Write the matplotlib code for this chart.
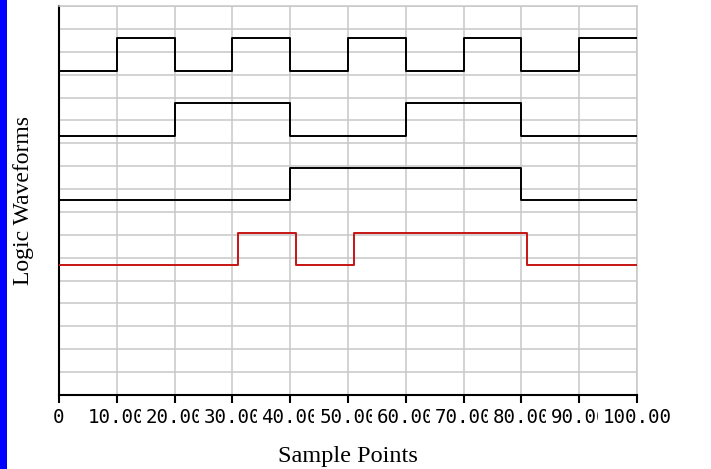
import numpy as np
import matplotlib
matplotlib.use("Agg")
import matplotlib.pyplot as plt
from matplotlib.patches import Rectangle

# transition points (sample index) and logic level after each point
clk_x = [0, 10, 20, 30, 40, 50, 60, 70, 80, 90, 100]
clk_lv = [0, 1, 0, 1, 0, 1, 0, 1, 0, 1, 1]
div2_x = [0, 20, 40, 60, 80, 100]
div2_lv = [0, 1, 0, 1, 0, 0]
div4_x = [0, 40, 80, 100]
div4_lv = [0, 1, 0, 0]
out_x = [0, 31, 41, 51, 81, 100]
out_lv = [0, 1, 0, 1, 0, 0]

# baseline of each trace on the y scale
offsets = [10, 8, 6, 4]
colors = ["black", "black", "black", "#c81414"]

x_ticks = [0, 10, 20, 30, 40, 50, 60, 70, 80, 90, 100]
x_tick_labels = ["0", "10.00", "20.00", "30.00", "40.00", "50.00",
                 "60.00", "70.00", "80.00", "90.00", "100.00"]

fig = plt.figure(figsize=(7.11, 4.69), dpi=100)
ax = fig.add_axes([59 / 711, 74 / 469, 578 / 711, 389 / 469])

# blue strip at the left edge
fig.patches.append(Rectangle((0, 0), 7 / 711, 1, transform=fig.transFigure,
                             facecolor="#0000ff", edgecolor="none"))

traces = [(clk_x, clk_lv), (div2_x, div2_lv), (div4_x, div4_lv), (out_x, out_lv)]
for (xs, lv), off, c in zip(traces, offsets, colors):
    ys = np.array(lv) + off
    ax.step(xs, ys, where="post", color=c, lw=1.4, zorder=3)

ax.set_xlim(0, 100)
ax.set_ylim(0, 12)
ax.set_xticks(x_ticks)
ax.set_xticklabels(x_tick_labels, family="DejaVu Sans Mono", fontsize=13.8)
for lab in ax.get_xticklabels():
    lab.set_bbox(dict(facecolor="white", edgecolor="none", pad=3.5))
ax.set_yticks(np.linspace(0, 12, 18))
ax.set_yticklabels([])
ax.tick_params(axis="y", length=0, pad=0)
ax.tick_params(axis="x", length=7, width=1.5, color="black", pad=2)

ax.grid(True, color="#c8c8c8", lw=1.1, zorder=0)
ax.set_axisbelow(True)

for s in ["top", "right"]:
    ax.spines[s].set_color("#c8c8c8")
    ax.spines[s].set_linewidth(1.1)
for s in ["left", "bottom"]:
    ax.spines[s].set_color("black")
    ax.spines[s].set_linewidth(1.5)

ax.set_xlabel("Sample Points", family="Liberation Serif", fontsize=17.5, labelpad=14)
ax.set_ylabel("Logic Waveforms", family="Liberation Serif", fontsize=17, labelpad=0)
ax.yaxis.set_label_coords(-25 / 578, 0.5)

fig.savefig("out.png", dpi=100)
